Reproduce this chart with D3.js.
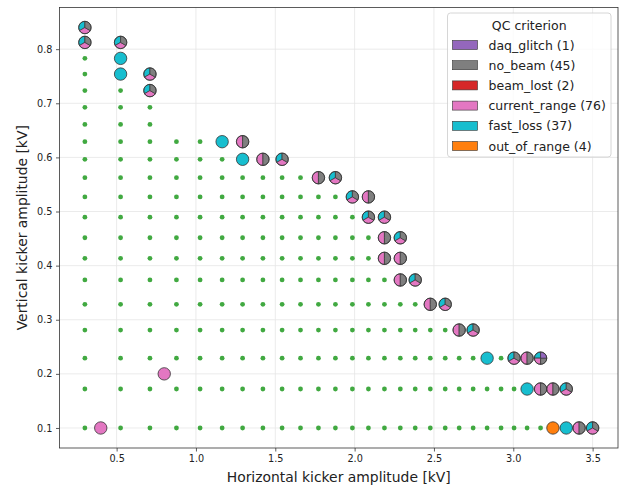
<!DOCTYPE html>
<html>
<head>
<meta charset="utf-8">
<script src="https://cdn.jsdelivr.net/npm/d3@7"></script>
<style>
  html, body { margin: 0; padding: 0; background: #fff; }
  svg { display: block; font-family: "DejaVu Sans", sans-serif; }
</style>
</head>
<body>
<svg id="chart" width="622" height="489"></svg>
<script>
// Kicker scan grid: horizontal amplitudes (columns) and vertical amplitudes (rows), kV
const hKick = [0.30, 0.525, 0.71, 0.877, 1.026, 1.165, 1.294, 1.422, 1.543, 1.659,
               1.772, 1.879, 1.986, 2.087, 2.188, 2.288, 2.382, 2.477, 2.571, 2.659,
               2.747, 2.835, 2.923, 3.005, 3.087, 3.172, 3.25, 3.334, 3.415, 3.50];
const vKick = [0.10, 0.172, 0.229, 0.281, 0.3285, 0.3735, 0.4135, 0.4515, 0.4895, 0.527,
               0.5625, 0.5965, 0.629, 0.661, 0.6925, 0.7235, 0.754, 0.783, 0.8125, 0.84];
// number of horizontal settings scanned on each vertical row
const rowPoints = [30, 28, 26, 21, 19, 17, 16, 16, 15, 14,
                   12, 9, 7, 3, 3, 3, 3, 2, 2, 1];

// QC categories, legend counts and colours
const categories = ["daq_glitch", "no_beam", "beam_lost", "current_range", "fast_loss", "out_of_range"];
const catCounts  = [1, 45, 2, 76, 37, 4];
const catColors  = ["#9467bd", "#7f7f7f", "#d62728", "#e377c2", "#17becf", "#ff7f0e"];

// Flagged settings: horizontal kV, vertical kV, failing criteria
const flagH = [0.30, 0.30, 0.525, 0.525, 0.525, 0.71, 0.71,
               1.165, 1.294, 1.294, 1.422, 1.543,
               1.772, 1.879, 1.986, 2.087, 2.087, 2.188,
               2.188, 2.288, 2.188, 2.288, 2.288, 2.382,
               2.477, 2.571, 2.659, 2.747,
               2.835, 3.005, 3.087, 3.172,
               3.087, 3.172, 3.25, 3.334,
               3.25, 3.334, 3.415, 3.50,
               0.40, 0.80];
const flagV = [0.84, 0.8125, 0.8125, 0.783, 0.754, 0.754, 0.7235,
               0.629, 0.629, 0.5965, 0.5965, 0.5965,
               0.5625, 0.5625, 0.527, 0.527, 0.4895, 0.4895,
               0.4515, 0.4515, 0.4135, 0.4135, 0.3735, 0.3735,
               0.3285, 0.3285, 0.281, 0.281,
               0.229, 0.229, 0.229, 0.229,
               0.172, 0.172, 0.172, 0.172,
               0.10, 0.10, 0.10, 0.10,
               0.10, 0.20];
const F3 = ["fast_loss", "current_range", "no_beam"];
const F2 = ["current_range", "no_beam"];
const flagCats = [F3, F3, F3, ["fast_loss"], ["fast_loss"], F3, F3,
                  ["fast_loss"], F2, ["fast_loss"], F2, F3,
                  F2, F3, F3, F2, F3, F3,
                  F2, F3, F2, F2, F2, F3,
                  F2, F3, F2, F3,
                  ["fast_loss"], F3, F2, ["fast_loss", "current_range", "no_beam", "daq_glitch"],
                  ["fast_loss"], F2, F2, F3,
                  ["out_of_range"], ["fast_loss"], F2, F3,
                  ["current_range"], ["current_range"]];

const xTicks = [0.5, 1.0, 1.5, 2.0, 2.5, 3.0, 3.5];
const yTicks = [0.1, 0.2, 0.3, 0.4, 0.5, 0.6, 0.7, 0.8];

const svg = d3.select("#chart");
const plotL = 59.5, plotR = 618, plotT = 7.5, plotB = 448;

const colorOf = d3.scaleOrdinal().domain(categories).range(catColors);

// axis limits padded by 5% of the data span on each side
const xMin = d3.min(hKick), xMax = d3.max(hKick);
const yMin = d3.min(vKick), yMax = d3.max(vKick);
const xPad = (xMax - xMin) * 0.05, yPad = (yMax - yMin) * 0.05;
const x = d3.scaleLinear().domain([xMin - xPad, xMax + xPad]).range([plotL, plotR]);
const y = d3.scaleLinear().domain([yMin - yPad, yMax + yPad]).range([plotB, plotT]);

// grid
const grid = svg.append("g").attr("stroke", "#e6e6e6").attr("stroke-width", 0.8);
grid.selectAll("line.gx").data(xTicks).join("line")
  .attr("x1", d => x(d)).attr("x2", d => x(d)).attr("y1", plotT).attr("y2", plotB);
grid.selectAll("line.gy").data(yTicks).join("line")
  .attr("y1", d => y(d)).attr("y2", d => y(d)).attr("x1", plotL).attr("x2", plotR);

// passing settings: every scanned grid node that is not flagged
const flaggedKey = new Set(flagH.map((h, i) => h + "|" + flagV[i]));
const passed = [];
vKick.forEach((v, r) => {
  for (let c = 0; c < rowPoints[r]; c++) {
    if (!flaggedKey.has(hKick[c] + "|" + v)) passed.push([hKick[c], v]);
  }
});
svg.append("g").selectAll("circle").data(passed).join("circle")
  .attr("cx", d => x(d[0])).attr("cy", d => y(d[1])).attr("r", 2.4)
  .attr("fill", "#2ca02c").attr("fill-opacity", 0.9);

// flagged settings drawn as pies of the failing criteria
const R = 6.2;
const arc = d3.arc().innerRadius(0).outerRadius(R);
const flagged = flagH.map((h, i) => ({ h, v: flagV[i], cats: flagCats[i] }));
const pies = svg.append("g").selectAll("g").data(flagged).join("g")
  .attr("transform", d => `translate(${x(d.h)},${y(d.v)})`);
pies.each(function (d) {
  const g = d3.select(this);
  const n = d.cats.length;
  if (n === 1) {
    g.append("circle").attr("r", R).attr("fill", colorOf(d.cats[0]))
      .attr("stroke", "#333").attr("stroke-width", 0.8);
    return;
  }
  const step = 2 * Math.PI / n;
  d.cats.forEach((c, i) => {
    g.append("path")
      .attr("d", arc({ startAngle: -(i + 1) * step, endAngle: -i * step }))
      .attr("fill", colorOf(c)).attr("stroke", "#333").attr("stroke-width", 0.7)
      .attr("stroke-linejoin", "round");
  });
  g.append("circle").attr("r", R).attr("fill", "none")
    .attr("stroke", "#333").attr("stroke-width", 0.8);
});

// axes
const xAxis = svg.append("g").attr("transform", `translate(0,${plotB})`)
  .call(d3.axisBottom(x).tickValues(xTicks).tickFormat(d3.format(".1f")).tickSize(3.5).tickPadding(3.5));
const yAxis = svg.append("g").attr("transform", `translate(${plotL},0)`)
  .call(d3.axisLeft(y).tickValues(yTicks).tickFormat(d3.format(".1f")).tickSize(3.5).tickPadding(3.5));
[xAxis, yAxis].forEach(a => {
  a.select(".domain").remove();
  a.selectAll("line").attr("stroke", "#333").attr("stroke-width", 0.8);
  a.selectAll("text").attr("font-size", 9.7).attr("fill", "#222")
    .attr("font-family", "DejaVu Sans, sans-serif");
});

// frame
svg.append("rect").attr("x", plotL).attr("y", plotT)
  .attr("width", plotR - plotL).attr("height", plotB - plotT)
  .attr("fill", "none").attr("stroke", "#333").attr("stroke-width", 0.8);

// axis titles
svg.append("text").attr("x", (plotL + plotR) / 2).attr("y", 477)
  .attr("text-anchor", "middle").attr("dominant-baseline", "central")
  .attr("font-size", 13.9).attr("fill", "#222")
  .text("Horizontal kicker amplitude [kV]");
svg.append("text")
  .attr("transform", `translate(21.5,${(plotT + plotB) / 2}) rotate(-90)`)
  .attr("text-anchor", "middle").attr("dominant-baseline", "central")
  .attr("font-size", 13.9).attr("fill", "#222")
  .text("Vertical kicker amplitude [kV]");

// legend
const lg = svg.append("g").attr("transform", "translate(447.5,13)");
lg.append("rect").attr("width", 163.5).attr("height", 144).attr("rx", 3)
  .attr("fill", "#fff").attr("fill-opacity", 0.8)
  .attr("stroke", "#cccccc").attr("stroke-width", 0.8);
lg.append("text").attr("x", 81.75).attr("y", 12)
  .attr("text-anchor", "middle").attr("dominant-baseline", "central")
  .attr("font-size", 12.5).attr("fill", "#222").text("QC criterion");
const rows = lg.selectAll("g.item").data(categories).join("g")
  .attr("transform", (d, i) => `translate(0,${32 + i * 20.2})`);
rows.append("rect").attr("x", 5).attr("y", -4.5).attr("width", 25).attr("height", 9)
  .attr("fill", d => colorOf(d)).attr("stroke", "#333").attr("stroke-width", 0.6);
rows.append("text").attr("x", 41).attr("y", 0).attr("dominant-baseline", "central")
  .attr("font-size", 12.5).attr("fill", "#222")
  .text((d, i) => `${d} (${catCounts[i]})`);
</script>
</body>
</html>
